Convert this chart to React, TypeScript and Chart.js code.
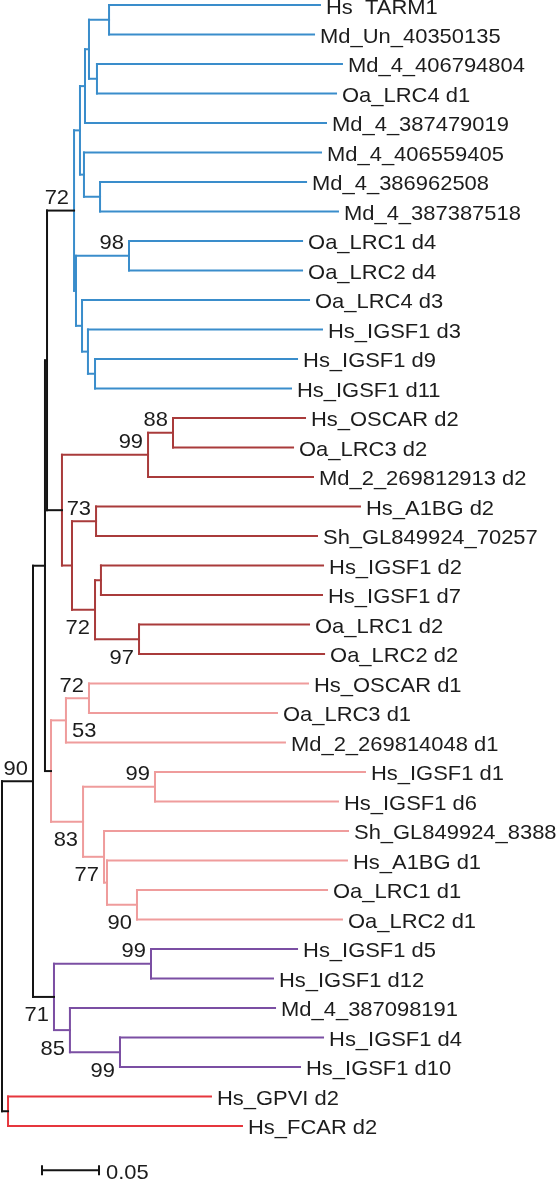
import React, { useEffect, useRef } from "react";
import { Chart, registerables } from "chart.js";

Chart.register(...registerables);

// ---- Leaves (top to bottom) ----
const leafNames = [
  "Hs  TARM1", "Md_Un_40350135", "Md_4_406794804", "Oa_LRC4 d1", "Md_4_387479019",
  "Md_4_406559405", "Md_4_386962508", "Md_4_387387518", "Oa_LRC1 d4", "Oa_LRC2 d4",
  "Oa_LRC4 d3", "Hs_IGSF1 d3", "Hs_IGSF1 d9", "Hs_IGSF1 d11",
  "Hs_OSCAR d2", "Oa_LRC3 d2", "Md_2_269812913 d2", "Hs_A1BG d2", "Sh_GL849924_70257",
  "Hs_IGSF1 d2", "Hs_IGSF1 d7", "Oa_LRC1 d2", "Oa_LRC2 d2",
  "Hs_OSCAR d1", "Oa_LRC3 d1", "Md_2_269814048 d1", "Hs_IGSF1 d1", "Hs_IGSF1 d6",
  "Sh_GL849924_8388", "Hs_A1BG d1", "Oa_LRC1 d1", "Oa_LRC2 d1",
  "Hs_IGSF1 d5", "Hs_IGSF1 d12", "Md_4_387098191", "Hs_IGSF1 d4", "Hs_IGSF1 d10",
  "Hs_GPVI d2", "Hs_FCAR d2",
];

// distance of each tip from the root (substitutions per site)
const leafDepths = [
  0.2789, 0.2737, 0.2982, 0.2930, 0.2842,
  0.2798, 0.2667, 0.2947, 0.2632, 0.2632,
  0.2693, 0.2807, 0.2588, 0.2535,
  0.2658, 0.2553, 0.2728, 0.3140, 0.2763,
  0.2816, 0.2807, 0.2693, 0.2825,
  0.2684, 0.2412, 0.2482, 0.3184, 0.2947,
  0.3035, 0.3026, 0.2851, 0.2982,
  0.2588, 0.2377, 0.2395, 0.2816, 0.2614,
  0.1833, 0.2105,
];

// ---- Internal nodes ----
const nodeIds = [
  "root", "n90", "D", "C",
  "b", "b1", "b2", "b3", "b4a", "b4b", "b5", "b6", "bX", "b98", "bY", "bZ", "bW",
  "r", "r99", "r88", "rA", "r73", "rB", "rC", "r97",
  "p", "p53", "p72", "p83", "p99", "p77", "pE", "p90",
  "u", "u99a", "u85", "u99b",
  "red",
];
const nodeDepths = [
  0, 0.0272, 0.0377, 0.0395,
  0.0632, 0.0684, 0.0728, 0.0763, 0.0939, 0.0833, 0.0719, 0.0860, 0.0649, 0.1114, 0.0702, 0.0754, 0.0816,
  0.0526, 0.1281, 0.1500, 0.0614, 0.0825, 0.0816, 0.0868, 0.1202,
  0.0430, 0.0561, 0.0763, 0.0711, 0.1342, 0.0895, 0.0921, 0.1184,
  0.0456, 0.1307, 0.0596, 0.1035,
  0.0053,
];
const nodeChildren: (string | number)[][] = [
  ["n90", "red"], ["D", "u"], ["C", "p"], ["b", "r"],
  ["b1", "bX"], ["b2", "b5"], ["b3", 4], ["b4a", "b4b"], [0, 1], [2, 3], [5, "b6"], [6, 7],
  ["b98", "bY"], [8, 9], [10, "bZ"], [11, "bW"], [12, 13],
  ["r99", "rA"], ["r88", 16], [14, 15], ["r73", "rB"], [17, 18], ["rC", "r97"], [19, 20], [21, 22],
  ["p53", "p83"], ["p72", 25], [23, 24], ["p99", "p77"], [26, 27], [28, "pE"], [29, "p90"], [30, 31],
  ["u99a", "u85"], [32, 33], [34, "u99b"], [35, 36],
  [37, 38],
];
const nodeClade = [
  "k", "k", "k", "k",
  "blue", "blue", "blue", "blue", "blue", "blue", "blue", "blue", "blue", "blue", "blue", "blue", "blue",
  "darkred", "darkred", "darkred", "darkred", "darkred", "darkred", "darkred", "darkred",
  "pink", "pink", "pink", "pink", "pink", "pink", "pink", "pink",
  "purple", "purple", "purple", "purple",
  "red",
];
const nodeSupport: (number | null)[] = [
  null, 90, null, null,
  72, null, null, null, null, null, null, null, null, 98, null, null, null,
  null, 99, 88, null, 73, 72, null, 97,
  null, 53, 72, 83, 99, 77, null, 90,
  71, 99, 85, 99,
  null,
];
const nodeSupportPlace = [
  "", "above", "", "",
  "above", "", "", "", "", "", "", "", "", "above", "", "", "",
  "", "above", "above", "", "above", "below", "", "below",
  "", "right", "above", "below", "above", "below", "", "below",
  "below", "above", "below", "below",
  "",
];

const cladeColors: Record<string, string> = {
  k: "#141414",
  blue: "#3a8dcb",
  darkred: "#a93b3b",
  pink: "#ef9c9c",
  purple: "#7b4fa3",
  red: "#e6363d",
};

// ---- Scale bar ----
const scaleBarStart = 0.0351;
const scaleBarLength = 0.05;
const scaleBarLabel = "0.05";

// axis ranges
const X_MIN = -0.00175;
const X_MAX = 0.4877;
const Y_MIN = -0.1695;
const Y_MAX = 39.797;
const SCALE_ROW = 39.5;

const FONT = '21px "Liberation Sans", Arial, sans-serif';
const TEXT_COLOR = "#1c1c1c";
const TEXT_STRETCH = 1.045;

function buildTree() {
  const idx: Record<string, number> = {};
  nodeIds.forEach((id, i) => (idx[id] = i));
  const yOf = (c: string | number): number => {
    if (typeof c === "number") return c;
    const ch = nodeChildren[idx[c]];
    return (yOf(ch[0]) + yOf(ch[ch.length - 1])) / 2;
  };
  const xOf = (c: string | number): number =>
    typeof c === "number" ? leafDepths[c] : nodeDepths[idx[c]];
  const segments: { pts: { x: number; y: number }[]; color: string }[] = [];
  const nodeY: number[] = [];
  nodeIds.forEach((id, i) => {
    const ch = nodeChildren[i];
    const color = cladeColors[nodeClade[i]];
    const x = nodeDepths[i];
    const ys = ch.map(yOf);
    nodeY[i] = (ys[0] + ys[ys.length - 1]) / 2;
    segments.push({ pts: [{ x, y: ys[0] }, { x, y: ys[ys.length - 1] }], color });
    ch.forEach((c, j) => {
      segments.push({ pts: [{ x, y: ys[j] }, { x: xOf(c), y: ys[j] }], color });
    });
  });
  return { segments, nodeY };
}

function drawText(ctx: CanvasRenderingContext2D, text: string, x: number, y: number, align: CanvasTextAlign) {
  ctx.save();
  ctx.translate(x, y);
  ctx.scale(TEXT_STRETCH, 1);
  ctx.textAlign = align;
  ctx.fillText(text, 0, 0);
  ctx.restore();
}

const labelPlugin = {
  id: "treeLabels",
  afterDatasetsDraw(chart: any) {
    const { ctx, scales } = chart;
    const xs = scales.x;
    const ys = scales.y;
    const { nodeY } = chart.options.plugins.treeLabels;
    ctx.save();
    ctx.font = FONT;
    ctx.fillStyle = TEXT_COLOR;
    ctx.textBaseline = "alphabetic";
    leafNames.forEach((name, i) => {
      const px = xs.getPixelForValue(leafDepths[i]);
      const py = ys.getPixelForValue(i);
      drawText(ctx, name, px + 6, py + 8.5, "left");
    });
    nodeSupport.forEach((v, i) => {
      if (v === null) return;
      const px = xs.getPixelForValue(nodeDepths[i]);
      const py = ys.getPixelForValue(nodeY[i]);
      const place = nodeSupportPlace[i];
      if (place === "right") {
        drawText(ctx, String(v), px + 6, py + 17, "left");
      } else {
        drawText(ctx, String(v), px - 5, place === "above" ? py - 6.5 : py + 24.5, "right");
      }
    });
    drawText(
      ctx,
      scaleBarLabel,
      xs.getPixelForValue(scaleBarStart + scaleBarLength) + 7,
      ys.getPixelForValue(SCALE_ROW) + 8.5,
      "left"
    );
    ctx.restore();
  },
};

export default function App() {
  const ref = useRef<HTMLCanvasElement | null>(null);
  useEffect(() => {
    if (!ref.current) return;
    const { segments, nodeY } = buildTree();
    const datasets: any[] = segments.map((s) => ({
      data: s.pts,
      showLine: true,
      borderColor: s.color,
      borderWidth: 2,
      borderCapStyle: "square",
      pointRadius: 0,
      pointHoverRadius: 0,
      fill: false,
    }));
    const tick = 0.17;
    const x1 = scaleBarStart;
    const x2 = scaleBarStart + scaleBarLength;
    [
      [{ x: x1, y: SCALE_ROW }, { x: x2, y: SCALE_ROW }],
      [{ x: x1, y: SCALE_ROW - tick }, { x: x1, y: SCALE_ROW + tick }],
      [{ x: x2, y: SCALE_ROW - tick }, { x: x2, y: SCALE_ROW + tick }],
    ].forEach((pts) =>
      datasets.push({
        data: pts,
        showLine: true,
        borderColor: "#141414",
        borderWidth: 2,
        pointRadius: 0,
        pointHoverRadius: 0,
        fill: false,
      })
    );
    const chart = new Chart(ref.current, {
      type: "scatter",
      data: { datasets },
      options: {
        animation: false,
        responsive: false,
        devicePixelRatio: 1,
        layout: { padding: 0 },
        events: [],
        scales: {
          x: { type: "linear", min: X_MIN, max: X_MAX, display: false },
          y: { type: "linear", min: Y_MIN, max: Y_MAX, reverse: true, display: false },
        },
        plugins: {
          legend: { display: false },
          tooltip: { enabled: false },
          treeLabels: { nodeY },
        } as any,
      },
      plugins: [labelPlugin],
    });
    return () => chart.destroy();
  }, []);
  return (
    <div style={{ position: "absolute", left: 0, top: 0, width: 558, height: 1179, background: "#fff" }}>
      <canvas ref={ref} width={558} height={1179} style={{ display: "block" }} />
    </div>
  );
}
